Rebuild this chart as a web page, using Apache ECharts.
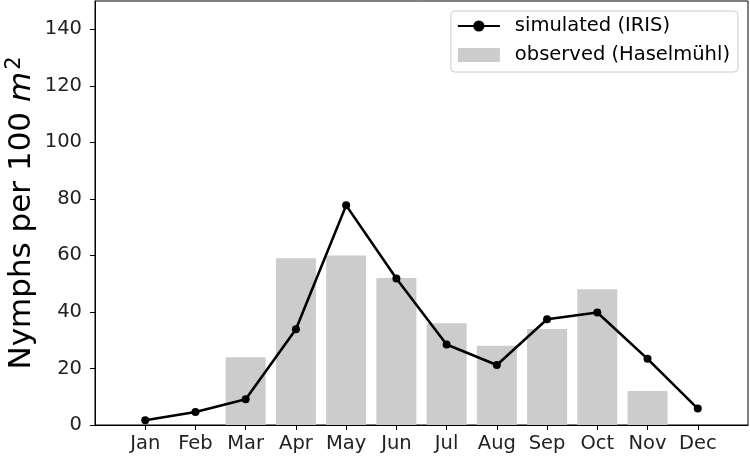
<!DOCTYPE html>
<html style="height: 100%">
<head>
    <meta charset="UTF-8">
    <script type="text/javascript" src="https://cdn.jsdelivr.net/npm/echarts@6/dist/echarts.min.js"></script>
    <style type="text/css">
        body {margin:0; padding:0; overflow:hidden; height:100%; background:#fff}
    </style>
</head>
<body>
    <div id="container" style="width:750px;height:458px"></div>
<script>
    var months = ['Jan','Feb','Mar','Apr','May','Jun','Jul','Aug','Sep','Oct','Nov','Dec'];
    var simulated = [1.7, 4.6, 9.1, 33.9, 77.7, 51.8, 28.5, 21.2, 37.4, 39.8, 23.4, 5.8];
    var observed = [null, null, 24, 59, 60, 52, 36, 28, 34, 48, 12, null];
    var yTicks = [0, 20, 40, 60, 80, 100, 120, 140];
    var monthPos = months.map(function (m, i) { return i + 1; });

    var font = 'DejaVu Sans';
    var myChart = echarts.init(document.getElementById('container'));

    option = {
        animation: false,
        grid: {
            left: 95, right: 2, top: 1, bottom: 33,
            outerBoundsMode: 'none',
            containLabel: false,
            show: true,
            borderColor: '#000',
            borderWidth: 1
        },
        legend: {
            orient: 'vertical',
            right: 12,
            top: 11,
            padding: [4, 8, 6, 6],
            itemWidth: 42,
            itemHeight: 14,
            itemGap: 7,
            backgroundColor: 'rgba(255,255,255,0.8)',
            borderColor: '#cccccc',
            borderWidth: 1,
            borderRadius: 4,
            textStyle: {
                fontFamily: font,
                fontSize: 19.5,
                color: '#000',
                lineHeight: 22,
                padding: [0, 0, 0, 10]
            },
            data: [
                {name: 'simulated (IRIS)'},
                {name: 'observed (Haselmühl)', icon: 'rect'}
            ]
        },
        xAxis: {
            type: 'value',
            min: 0,
            max: 13,
            interval: 1,
            splitLine: {show: false},
            axisLine: {lineStyle: {color: '#000'}},
            axisTick: {
                show: true,
                length: 5,
                customValues: monthPos,
                lineStyle: {color: '#000'}
            },
            axisLabel: {
                customValues: monthPos,
                margin: 9,
                fontFamily: font,
                fontSize: 19.5,
                color: '#222',
                formatter: function (v) { return months[v - 1] || ''; }
            }
        },
        yAxis: {
            type: 'value',
            min: 0,
            max: 150,
            interval: 20,
            splitLine: {show: false},
            axisLine: {show: true, lineStyle: {color: '#000'}},
            axisTick: {
                show: true,
                length: 5,
                customValues: yTicks,
                lineStyle: {color: '#000'}
            },
            axisLabel: {
                customValues: yTicks,
                margin: 13,
                fontFamily: font,
                fontSize: 19.5,
                color: '#222'
            },
            name: '{a|Nymphs per 100 }{i|m}{s|2}',
            nameLocation: 'middle',
            nameRotate: 90,
            nameGap: 55,
            nameMoveOverlap: false,
            nameTextStyle: {
                fontFamily: font,
                color: '#000',
                rich: {
                    a: {fontFamily: font, fontSize: 31, color: '#000', lineHeight: 36},
                    i: {fontFamily: font, fontSize: 31, fontStyle: 'italic', color: '#000', lineHeight: 36},
                    s: {fontFamily: font, fontSize: 21, color: '#000', verticalAlign: 'top', lineHeight: 36, padding: [0, 0, 16, 2]}
                }
            }
        },
        series: [
            {
                name: 'observed (Haselmühl)',
                type: 'bar',
                barWidth: 40,
                itemStyle: {color: '#cccccc'},
                data: observed.map(function (v, i) { return [i + 1, v]; })
            },
            {
                name: 'simulated (IRIS)',
                type: 'line',
                z: 5,
                symbol: 'circle',
                symbolSize: 8,
                lineStyle: {color: '#000', width: 2.6},
                itemStyle: {color: '#000'},
                data: simulated.map(function (v, i) { return [i + 1, v]; })
            }
        ]
    };
    myChart.setOption(option);
</script>
</body>
</html>
